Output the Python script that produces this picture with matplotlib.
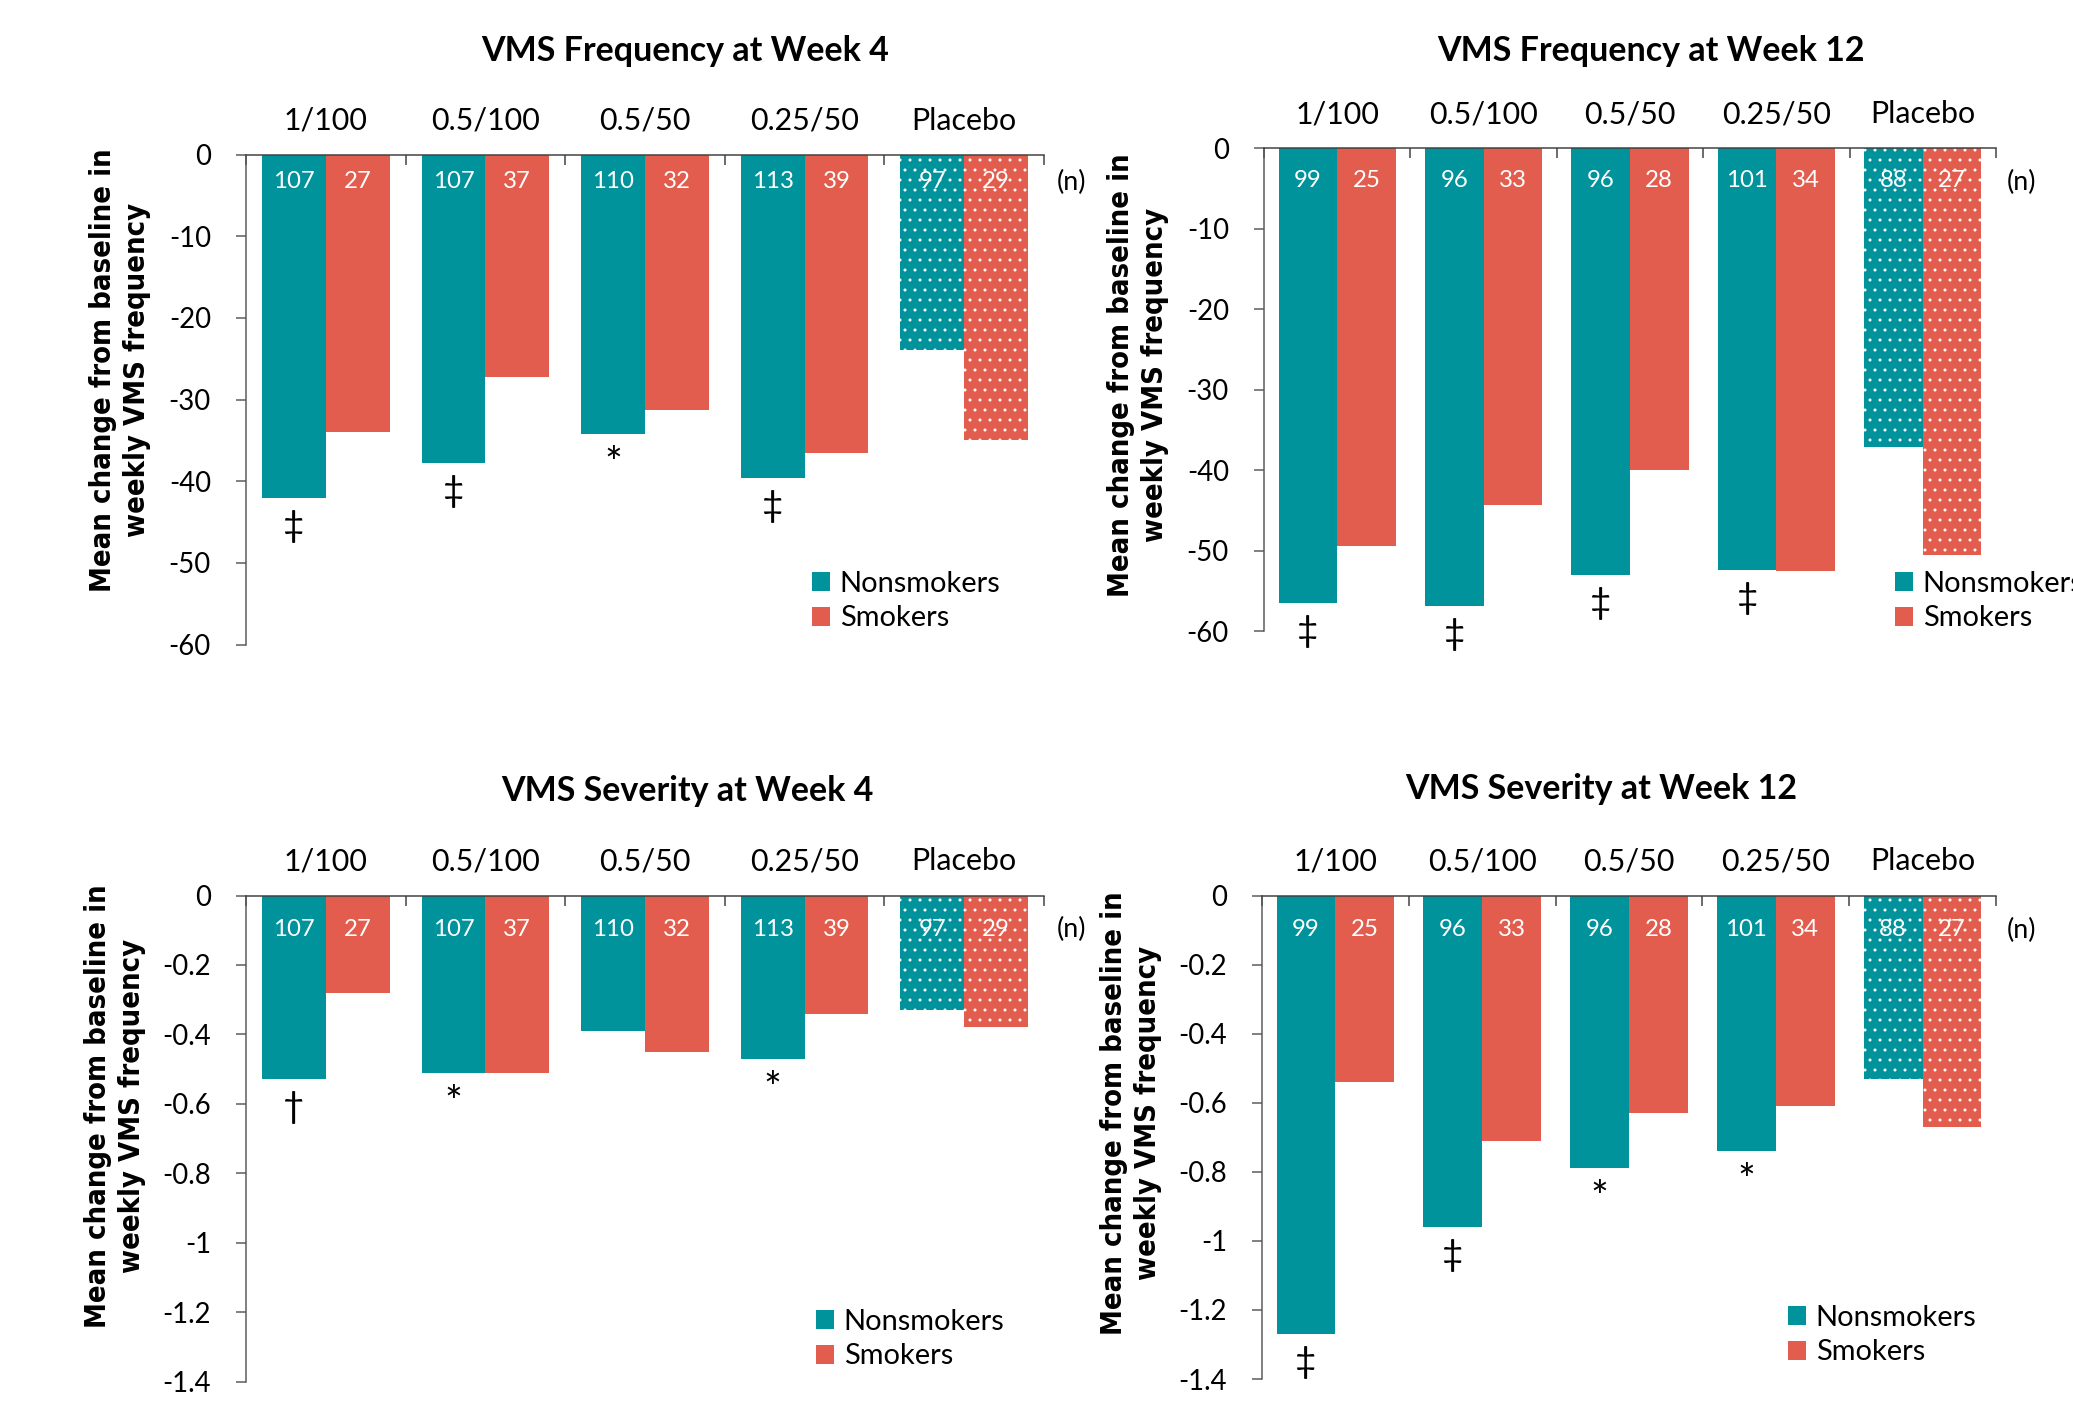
import matplotlib

matplotlib.use("Agg")  # headless, just write the png
import matplotlib.pyplot as plt
import numpy as np
from matplotlib.patches import Patch
from matplotlib.ticker import FuncFormatter

DPI = 120
W, H = 2073, 1408


def pt(px):
    # sizes below are worked out in output pixels
    return px * 72 / DPI


TEAL = "#00939B"
CORAL = "#E35D4F"
TEXT_FONT = ["Lato", "DejaVu Sans"]

doses = ["1/100", "0.5/100", "0.5/50", "0.25/50", "Placebo"]

# number of women per arm
n_nonsmokers_wk4 = [107, 107, 110, 113, 97]
n_smokers_wk4 = [27, 37, 32, 39, 29]
n_nonsmokers_wk12 = [99, 96, 96, 101, 88]
n_smokers_wk12 = [25, 33, 28, 34, 27]

# mean change from baseline
freq_wk4_nonsmokers = [-42.1, -37.8, -34.2, -39.6, -23.9]
freq_wk4_smokers = [-34.0, -27.3, -31.3, -36.6, -34.9]
freq_wk12_nonsmokers = [-56.5, -56.9, -53.0, -52.4, -37.1]
freq_wk12_smokers = [-49.5, -44.3, -40.0, -52.5, -50.6]
sev_wk4_nonsmokers = [-0.53, -0.51, -0.39, -0.47, -0.33]
sev_wk4_smokers = [-0.28, -0.51, -0.45, -0.34, -0.38]
sev_wk12_nonsmokers = [-1.27, -0.96, -0.79, -0.74, -0.53]
sev_wk12_smokers = [-0.54, -0.71, -0.63, -0.61, -0.67]

# significance vs placebo, nonsmokers
sig_freq_wk4 = ["‡", "‡", "*", "‡", ""]
sig_freq_wk12 = ["‡", "‡", "‡", "‡", ""]
sig_sev_wk4 = ["†", "*", "", "*", ""]
sig_sev_wk12 = ["‡", "‡", "*", "*", ""]

freq_ticks = [0, -10, -20, -30, -40, -50, -60]
sev_ticks = [0, -0.2, -0.4, -0.6, -0.8, -1, -1.2, -1.4]

ylabel = "Mean change from baseline in\nweekly VMS frequency"

# Lato's asterisk is small, so it gets a bigger size than the daggers
mark_px = {"*": 42, "†": 37, "‡": 37}

panels = [
    dict(title="VMS Frequency at Week 4", ns=freq_wk4_nonsmokers, sm=freq_wk4_smokers,
         n_ns=n_nonsmokers_wk4, n_sm=n_smokers_wk4, sig=sig_freq_wk4, ticks=freq_ticks,
         box=(246, 154.5, 1044, 644.5), title_xy=(685, 51), ylab_xy=(120, 370),
         n_xy=(1071, 182), n_off=26.5, legend_xy=(812, 571)),
    dict(title="VMS Frequency at Week 12", ns=freq_wk12_nonsmokers, sm=freq_wk12_smokers,
         n_ns=n_nonsmokers_wk12, n_sm=n_smokers_wk12, sig=sig_freq_wk12, ticks=freq_ticks,
         box=(1264, 148, 1996, 631), title_xy=(1651, 51), ylab_xy=(1138, 375),
         n_xy=(2021, 182), n_off=32, legend_xy=(1895, 571)),
    dict(title="VMS Severity at Week 4", ns=sev_wk4_nonsmokers, sm=sev_wk4_smokers,
         n_ns=n_nonsmokers_wk4, n_sm=n_smokers_wk4, sig=sig_sev_wk4, ticks=sev_ticks,
         box=(246, 895.5, 1044, 1381.5), title_xy=(687, 791), ylab_xy=(115, 1106),
         n_xy=(1071, 929), n_off=34.5, legend_xy=(816, 1309)),
    dict(title="VMS Severity at Week 12", ns=sev_wk12_nonsmokers, sm=sev_wk12_smokers,
         n_ns=n_nonsmokers_wk12, n_sm=n_smokers_wk12, sig=sig_sev_wk12, ticks=sev_ticks,
         box=(1262, 895.5, 1996, 1379), title_xy=(1601, 789), ylab_xy=(1131, 1113),
         n_xy=(2022, 930), n_off=34.5, legend_xy=(1788, 1305)),
]

plt.rcParams["hatch.linewidth"] = 0.6

fig = plt.figure(figsize=(W / DPI, H / DPI), dpi=DPI)


def fig_xy(x, y):
    return x / W, 1 - y / H


for p in panels:
    left, top, right, bottom = p["box"]
    ax = fig.add_axes([left / W, 1 - bottom / H, (right - left) / W, (bottom - top) / H])

    x = np.arange(len(doses))
    ns_bars = ax.bar(x + 0.3, p["ns"], width=0.4, color=TEAL, linewidth=0)
    sm_bars = ax.bar(x + 0.7, p["sm"], width=0.4, color=CORAL, linewidth=0)

    # placebo arm gets the dotted fill
    for bar in (ns_bars[-1], sm_bars[-1]):
        bar.set_hatch("..")
        bar.set_edgecolor("white")
        bar.set_linewidth(0)

    for bars, counts in ((ns_bars, p["n_ns"]), (sm_bars, p["n_sm"])):
        for bar, n in zip(bars, counts):
            ax.annotate(str(n), xy=(bar.get_x() + bar.get_width() / 2, 0),
                        xytext=(0, -pt(p["n_off"])), textcoords="offset points",
                        ha="center", va="center", color="white",
                        fontsize=pt(24), family=TEXT_FONT)

    for bar, mark in zip(ns_bars, p["sig"]):
        if mark:
            ax.annotate(mark, xy=(bar.get_x() + bar.get_width() / 2, bar.get_height()),
                        xytext=(0, -pt(12)), textcoords="offset points",
                        ha="center", va="top", color="black",
                        fontsize=pt(mark_px[mark]), family=TEXT_FONT)

    ax.set_xlim(0, len(doses))
    ax.set_ylim(min(p["ticks"]), 0)
    ax.set_yticks(p["ticks"])
    ax.yaxis.set_major_formatter(FuncFormatter(lambda v, _: f"{v:g}"))

    ax.xaxis.tick_top()
    ax.set_xticks(np.arange(len(doses) + 1))
    ax.set_xticks(x + 0.5, minor=True)
    ax.set_xticklabels(doses, minor=True, family=TEXT_FONT, fontsize=pt(30.4))
    ax.tick_params(axis="x", which="major", direction="in", length=pt(10),
                   width=pt(1.5), color="#404040", labeltop=False, top=True, bottom=False)
    ax.tick_params(axis="x", which="minor", length=0, pad=pt(20), top=True, bottom=False)
    ax.tick_params(axis="y", direction="out", length=pt(10), width=pt(1.5),
                   color="#595959", pad=pt(25), labelsize=pt(27.5))
    for lab in ax.get_yticklabels():
        lab.set_family(TEXT_FONT)

    for side in ("right", "bottom"):
        ax.spines[side].set_visible(False)
    ax.spines["top"].set_color("#404040")
    ax.spines["top"].set_linewidth(pt(1.5))
    ax.spines["left"].set_color("#595959")
    ax.spines["left"].set_linewidth(pt(1.5))

    fig.text(*fig_xy(*p["title_xy"]), p["title"], ha="center", va="center",
             fontsize=pt(34), fontweight="bold", family=TEXT_FONT)
    fig.text(*fig_xy(*p["ylab_xy"]), ylabel, rotation=90, ha="center", va="center",
             multialignment="center", linespacing=1.25, fontsize=pt(29),
             fontweight="bold", fontstretch="condensed", family="DejaVu Sans")
    fig.text(*fig_xy(*p["n_xy"]), "(n)", ha="center", va="center",
             fontsize=pt(27), family=TEXT_FONT)

    handles = [Patch(facecolor=TEAL, label="Nonsmokers"),
               Patch(facecolor=CORAL, label="Smokers")]
    ax.legend(handles=handles, loc="upper left", bbox_to_anchor=fig_xy(*p["legend_xy"]),
              bbox_transform=fig.transFigure, frameon=False, borderpad=0,
              borderaxespad=0, handlelength=0.62, handleheight=0.62,
              handletextpad=0.34, labelspacing=0.29,
              prop=dict(family=TEXT_FONT, size=pt(29)))

fig.savefig("out.png", dpi=DPI)
